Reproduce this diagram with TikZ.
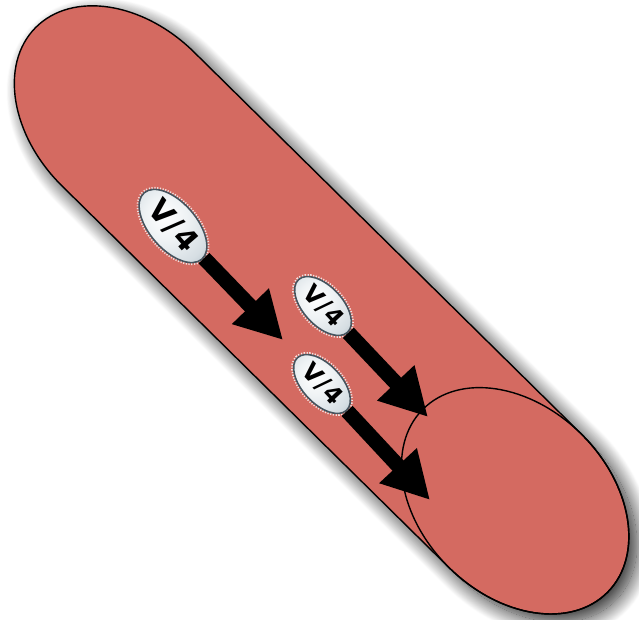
\documentclass[tikz,border=0pt]{standalone}
\usepackage{fontspec}
\newfontfamily\badgefont{DejaVu Sans}[LetterSpace=6]
\usetikzlibrary{shapes.geometric,arrows.meta,shadows.blur}
\definecolor{bodyred}{RGB}{212,106,97}
\definecolor{rim}{RGB}{70,84,94}
\definecolor{glassA}{RGB}{238,242,244}
\definecolor{glassB}{RGB}{214,222,227}
\definecolor{glassC}{RGB}{178,192,200}
\definecolor{glassD}{RGB}{130,146,156}
\pgfdeclareradialshading{glassbadge}{\pgfpoint{-6bp}{6bp}}{color(0bp)=(white); color(14bp)=(glassA); color(28bp)=(glassB); color(38bp)=(glassC); color(45bp)=(glassD); color(50bp)=(rim); color(70bp)=(rim)}
\begin{document}
\begin{tikzpicture}[x=1pt,y=-1pt,
  badge/.style={ellipse, inner sep=0pt, draw=rim, line width=1.6pt,
    shading=glassbadge,
    preaction={draw=white, line width=5pt, dash pattern=on 1.2pt off 1.4pt, opacity=.8}},
  bigbadge/.style={badge, rotate=-49, minimum width=88pt, minimum height=47pt,
    font=\badgefont\bfseries\fontsize{30}{30}\selectfont},
  smallbadge/.style={badge, rotate=-47, minimum width=72pt, minimum height=39pt,
    font=\badgefont\bfseries\fontsize{24}{24}\selectfont},
  bigarrow/.style={line width=15pt, -{Triangle[length=47pt,width=48pt]}},
  bodyshape/.style={fill=bodyred, draw=black, line width=1.4pt}]
\useasboundingbox (0,0) rectangle (639,620);
\begin{scope}[shift={(128,119)}, rotate=-44.6]
  \path[bodyshape, blur shadow={shadow xshift=8pt, shadow yshift=-8pt,
      shadow blur radius=16pt, shadow blur steps=28, shadow opacity=85}]
    (0,-94) -- (543.8,-94)
    arc[start angle=-90, end angle=90, x radius=130, y radius=94]
    -- (0,94)
    arc[start angle=90, end angle=270, x radius=130, y radius=94]
    -- cycle;
  \draw[line width=1.4pt] (543.8,0) ellipse [x radius=130, y radius=94];
\end{scope}
\node[bigbadge] (b1) at (173,226) {V/4};
\node[smallbadge] (b2) at (323,306) {V/4};
\node[smallbadge] (b3) at (322,384) {V/4};
\coordinate (t1) at (283,340);
\coordinate (t2) at (428,417);
\coordinate (t3) at (430,500);
\draw[bigarrow] (b1) -- (t1);
\draw[bigarrow] (b2) -- (t2);
\draw[bigarrow] (b3) -- (t3);
\end{tikzpicture}
\end{document}
